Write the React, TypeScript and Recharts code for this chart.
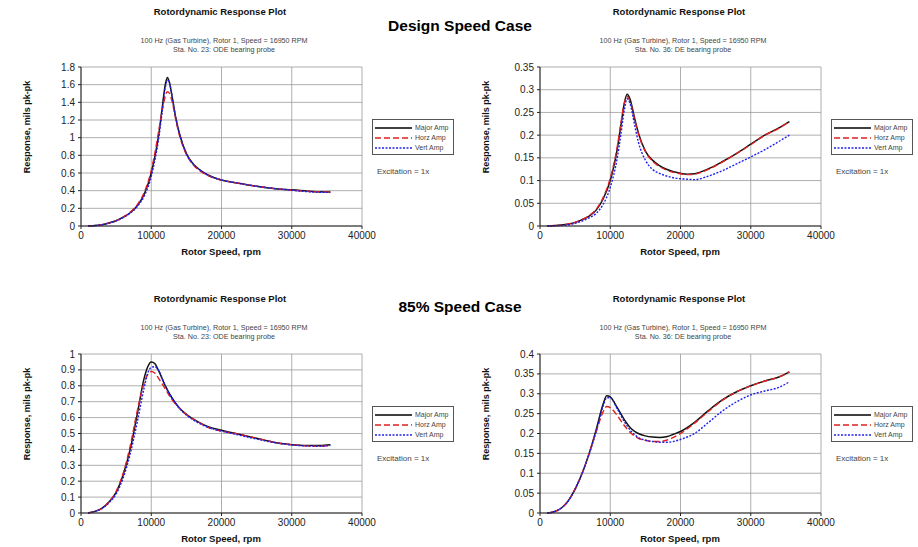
import { LineChart, Line, XAxis, YAxis, CartesianGrid } from 'recharts'

// rotor speed samples, rpm
const rpmOdeDesign = [1000, 2000, 3000, 4000, 5000, 6000, 7000, 8000, 9000, 10000, 10500, 11000, 11500, 12000, 12300, 12600, 13000, 13500, 14000, 15000, 16000, 17000, 18000, 20000, 22000, 25000, 28000, 30000, 33000, 35500]
const majorOdeDesign = [0, 0.005, 0.015, 0.035, 0.06, 0.1, 0.15, 0.23, 0.36, 0.6, 0.78, 1.0, 1.3, 1.6, 1.68, 1.62, 1.45, 1.22, 1.05, 0.82, 0.7, 0.63, 0.58, 0.52, 0.49, 0.45, 0.42, 0.41, 0.39, 0.385]
const horzOdeDesign = [0, 0.005, 0.015, 0.035, 0.06, 0.1, 0.155, 0.24, 0.38, 0.63, 0.82, 1.05, 1.28, 1.47, 1.52, 1.5, 1.4, 1.2, 1.03, 0.81, 0.69, 0.62, 0.575, 0.52, 0.49, 0.45, 0.42, 0.405, 0.39, 0.385]
const vertOdeDesign = [0, 0.005, 0.014, 0.033, 0.057, 0.095, 0.145, 0.22, 0.34, 0.56, 0.74, 0.96, 1.26, 1.57, 1.65, 1.62, 1.45, 1.22, 1.05, 0.82, 0.7, 0.63, 0.58, 0.52, 0.49, 0.45, 0.42, 0.405, 0.385, 0.38]

const rpmDeDesign = [1000, 3000, 5000, 6000, 7000, 8000, 9000, 10000, 11000, 11500, 12000, 12400, 12800, 13500, 14000, 15000, 16000, 17000, 18000, 20000, 21000, 22000, 24000, 26000, 28000, 30000, 32000, 34000, 35500]
const majorDeDesign = [0, 0.002, 0.008, 0.014, 0.022, 0.035, 0.06, 0.1, 0.17, 0.22, 0.27, 0.29, 0.28, 0.235, 0.205, 0.165, 0.145, 0.133, 0.125, 0.116, 0.114, 0.115, 0.126, 0.142, 0.16, 0.18, 0.2, 0.216, 0.23]
const horzDeDesign = [0, 0.002, 0.008, 0.014, 0.023, 0.037, 0.063, 0.105, 0.175, 0.225, 0.27, 0.285, 0.275, 0.232, 0.203, 0.164, 0.143, 0.131, 0.123, 0.115, 0.113, 0.114, 0.125, 0.141, 0.16, 0.179, 0.2, 0.215, 0.23]
const vertDeDesign = [0, 0.001, 0.006, 0.011, 0.018, 0.028, 0.048, 0.085, 0.15, 0.2, 0.255, 0.28, 0.27, 0.22, 0.185, 0.145, 0.125, 0.116, 0.11, 0.104, 0.103, 0.102, 0.11, 0.122, 0.137, 0.152, 0.168, 0.186, 0.2]

const rpmOde85 = [1000, 2000, 3000, 4000, 5000, 6000, 7000, 8000, 9000, 9500, 10000, 10500, 11000, 12000, 13000, 14000, 15000, 16000, 17000, 18000, 20000, 22000, 24000, 26000, 28000, 30000, 32000, 34000, 35500]
const majorOde85 = [0, 0.01, 0.03, 0.07, 0.13, 0.24, 0.4, 0.62, 0.85, 0.92, 0.95, 0.94, 0.9, 0.8, 0.72, 0.66, 0.62, 0.59, 0.565, 0.545, 0.52, 0.5, 0.48, 0.46, 0.44, 0.43, 0.425, 0.425, 0.43]
const horzOde85 = [0, 0.01, 0.03, 0.07, 0.135, 0.25, 0.42, 0.64, 0.82, 0.87, 0.89, 0.88, 0.85, 0.78, 0.71, 0.66, 0.62, 0.59, 0.565, 0.54, 0.515, 0.5, 0.48, 0.46, 0.44, 0.43, 0.422, 0.42, 0.425]
const vertOde85 = [0, 0.01, 0.028, 0.065, 0.12, 0.22, 0.37, 0.57, 0.79, 0.88, 0.915, 0.92, 0.9, 0.8, 0.72, 0.66, 0.615, 0.585, 0.56, 0.54, 0.515, 0.495, 0.475, 0.455, 0.44, 0.428, 0.422, 0.42, 0.425]

const rpmDe85 = [1000, 2000, 3000, 4000, 5000, 6000, 7000, 8000, 9000, 9500, 10000, 11000, 12000, 13000, 14000, 15000, 16000, 17000, 18000, 19000, 20000, 22000, 24000, 26000, 28000, 30000, 32000, 34000, 35500]
const majorDe85 = [0, 0.003, 0.012, 0.03, 0.06, 0.1, 0.15, 0.21, 0.275, 0.295, 0.292, 0.265, 0.235, 0.212, 0.2, 0.194, 0.191, 0.19, 0.192, 0.198, 0.205, 0.228, 0.258, 0.285, 0.305, 0.32, 0.332, 0.342, 0.355]
const horzDe85 = [0, 0.003, 0.012, 0.03, 0.06, 0.1, 0.15, 0.205, 0.255, 0.268, 0.265, 0.245, 0.22, 0.2, 0.188, 0.183, 0.18, 0.18, 0.183, 0.19, 0.2, 0.226, 0.256, 0.284, 0.305, 0.32, 0.332, 0.342, 0.355]
const vertDe85 = [0, 0.003, 0.012, 0.03, 0.06, 0.1, 0.148, 0.205, 0.27, 0.29, 0.29, 0.262, 0.23, 0.205, 0.19, 0.183, 0.18, 0.178, 0.178, 0.18, 0.185, 0.2, 0.228, 0.257, 0.28, 0.297, 0.307, 0.316, 0.33]

const xTicks = [0, 10000, 20000, 30000, 40000]
const yTicksOdeDesign = [0, 0.2, 0.4, 0.6, 0.8, 1, 1.2, 1.4, 1.6, 1.8]
const yTicksDeDesign = [0, 0.05, 0.1, 0.15, 0.2, 0.25, 0.3, 0.35]
const yTicksOde85 = [0, 0.1, 0.2, 0.3, 0.4, 0.5, 0.6, 0.7, 0.8, 0.9, 1]
const yTicksDe85 = [0, 0.05, 0.1, 0.15, 0.2, 0.25, 0.3, 0.35, 0.4]

const seriesNames = ['Major Amp', 'Horz Amp', 'Vert Amp']
const FONT = '"Liberation Sans", Arial, sans-serif'

type PanelProps = {
  left: number
  top: number
  rpm: number[]
  major: number[]
  horz: number[]
  vert: number[]
  yTicks: number[]
  station: string
}

function LegendBox() {
  const styles = [
    { stroke: '#000', dash: undefined },
    { stroke: '#e02020', dash: '6 3' },
    { stroke: '#2020ee', dash: '2 1.5' },
  ]
  return (
    <div style={{ position: 'absolute', left: 372, top: 119, width: 80, height: 34, border: '1px solid #555', background: '#fff' }}>
      {seriesNames.map((name, i) => (
        <div key={name} style={{ position: 'absolute', left: 2, top: 3 + i * 10, height: 9, display: 'flex', alignItems: 'center', whiteSpace: 'nowrap' }}>
          <svg width={37} height={6}>
            <line x1={0} y1={3} x2={37} y2={3} stroke={styles[i].stroke} strokeWidth={1.4} strokeDasharray={styles[i].dash} />
          </svg>
          <span style={{ fontSize: 7, marginLeft: 3, color: '#444' }}>{name}</span>
        </div>
      ))}
    </div>
  )
}

function Panel({ left, top, rpm, major, horz, vert, yTicks, station }: PanelProps) {
  const rows = rpm.map((r, i) => ({ rpm: r, major: major[i], horz: horz[i], vert: vert[i] }))
  const yMax = yTicks[yTicks.length - 1]
  return (
    <div style={{ position: 'absolute', left, top, width: 460, height: 270, fontFamily: FONT }}>
      <div style={{ position: 'absolute', left: 120, width: 200, top: 6, textAlign: 'center', fontSize: 9.5, fontWeight: 'bold', color: '#111' }}>
        Rotordynamic Response Plot
      </div>
      <div style={{ position: 'absolute', left: 104, width: 240, top: 36, textAlign: 'center', fontSize: 7.2, lineHeight: '9px', color: '#444' }}>
        100 Hz (Gas Turbine), Rotor 1, Speed = 16950 RPM
        <br />
        {station}
      </div>
      <div
        style={{
          position: 'absolute', left: 27 - 60, top: 128 - 6, width: 120, textAlign: 'center',
          transform: 'rotate(-90deg)', fontSize: 9, fontWeight: 'bold', color: '#111',
        }}
      >
        Response, mils pk-pk
      </div>
      <div style={{ position: 'absolute', left: 121, width: 200, top: 246, textAlign: 'center', fontSize: 9.5, fontWeight: 'bold', color: '#111' }}>
        Rotor Speed, rpm
      </div>
      <LineChart width={460} height={270} data={rows} margin={{ top: 67, right: 98, bottom: 14, left: 41 }} style={{ position: 'absolute', left: 0, top: 0 }}>
        <CartesianGrid stroke="#9a9a9a" strokeWidth={0.8} />
        <XAxis
          dataKey="rpm" type="number" domain={[0, 40000]} ticks={xTicks} height={30} interval={0}
          stroke="#222" tickSize={3} tick={{ fontSize: 10, fill: '#222' }} tickMargin={3}
        />
        <YAxis
          type="number" domain={[0, yMax]} ticks={yTicks} width={40} interval={0}
          stroke="#222" tickSize={3} tick={{ fontSize: 10, fill: '#222' }} tickMargin={3}
        />
        <Line dataKey="major" type="monotone" stroke="#111" strokeWidth={1.5} dot={false} isAnimationActive={false} />
        <Line dataKey="horz" type="monotone" stroke="#e02020" strokeWidth={1.4} strokeDasharray="6 3" dot={false} isAnimationActive={false} />
        <Line dataKey="vert" type="monotone" stroke="#2020ee" strokeWidth={1.4} strokeDasharray="2 1.5" dot={false} isAnimationActive={false} />
      </LineChart>
      <LegendBox />
      <div style={{ position: 'absolute', left: 377, top: 167, fontSize: 8, color: '#444' }}>Excitation = 1x</div>
    </div>
  )
}

export default function App() {
  return (
    <div style={{ position: 'absolute', left: 0, top: 0, width: 918, height: 547, background: '#fff', overflow: 'hidden', fontFamily: FONT }}>
      <Panel left={0} top={0} rpm={rpmOdeDesign} major={majorOdeDesign} horz={horzOdeDesign} vert={vertOdeDesign} yTicks={yTicksOdeDesign} station="Sta. No. 23: ODE bearing probe" />
      <Panel left={459} top={0} rpm={rpmDeDesign} major={majorDeDesign} horz={horzDeDesign} vert={vertDeDesign} yTicks={yTicksDeDesign} station="Sta. No. 36: DE bearing probe" />
      <Panel left={0} top={287} rpm={rpmOde85} major={majorOde85} horz={horzOde85} vert={vertOde85} yTicks={yTicksOde85} station="Sta. No. 23: ODE bearing probe" />
      <Panel left={459} top={287} rpm={rpmDe85} major={majorDe85} horz={horzDe85} vert={vertDe85} yTicks={yTicksDe85} station="Sta. No. 36: DE bearing probe" />
      <div style={{ position: 'absolute', left: 360, width: 200, top: 17, textAlign: 'center', fontSize: 15.5, fontWeight: 'bold', color: '#000' }}>
        Design Speed Case
      </div>
      <div style={{ position: 'absolute', left: 360, width: 200, top: 298, textAlign: 'center', fontSize: 15.5, fontWeight: 'bold', color: '#000' }}>
        85% Speed Case
      </div>
    </div>
  )
}
